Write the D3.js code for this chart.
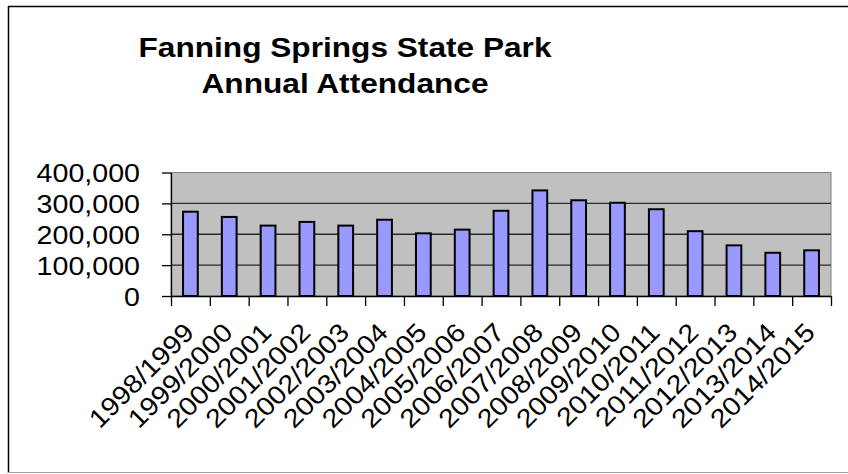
<!DOCTYPE html>
<html>
<head>
<meta charset="utf-8">
<script src="https://cdn.jsdelivr.net/npm/d3@7"></script>
<style>
    body { margin: 0; background: #fff; }
    svg { display: block; }
    text { font-family: "Liberation Sans", Arial, sans-serif; fill: #000; }
</style>
</head>
<body>
<svg id="chart" width="848" height="474"></svg>
<script>
const titleLines = ["Fanning Springs State Park", "Annual Attendance"];
const seasons = ["1998/1999", "1999/2000", "2000/2001", "2001/2002", "2002/2003", "2003/2004",
    "2004/2005", "2005/2006", "2006/2007", "2007/2008", "2008/2009", "2009/2010",
    "2010/2011", "2011/2012", "2012/2013", "2013/2014", "2014/2015"];
const attendance = [273000, 256000, 228000, 240000, 228000, 247000, 203000, 215000, 276000,
    342000, 310000, 302000, 281000, 210000, 164000, 140000, 148000];
const yTicks = [0, 100000, 200000, 300000, 400000];

const svg = d3.select("#chart");
const plot = { left: 171, right: 831, top: 172.5, bottom: 296 };
const stretch = 1.1; // the original text renders a bit wide

// outer frame (left/top dark, bottom light)
svg.append("line").attr("x1", 8.5).attr("y1", 6).attr("x2", 8.5).attr("y2", 473).style("stroke", "#000").style("stroke-width", 1.5);
svg.append("line").attr("x1", 8).attr("y1", 6.5).attr("x2", 848).attr("y2", 6.5).style("stroke", "#000").style("stroke-width", 1.5);
svg.append("line").attr("x1", 8).attr("y1", 472.5).attr("x2", 848).attr("y2", 472.5).style("stroke", "#a0a0a0");

// title
svg.append("g").selectAll("text")
    .data(titleLines)
    .enter()
    .append("text")
    .attr("text-anchor", "middle")
    .attr("transform", (d, i) => `translate(345,${56.5 + i * 36}) scale(1.13,1)`)
    .style("font-weight", "bold")
    .style("font-size", "28px")
    .text(d => d);

const x = d3.scaleBand()
    .domain(seasons)
    .range([plot.left, plot.right])
    .paddingInner(0.62)
    .paddingOuter(0.31);

const y = d3.scaleLinear()
    .domain([0, 400000])
    .range([plot.bottom, plot.top]);

// slot boundaries for the category ticks
const slots = d3.scaleLinear()
    .domain([0, seasons.length])
    .range([plot.left, plot.right]);

svg.append("rect")
    .attr("x", plot.left)
    .attr("y", plot.top)
    .attr("width", plot.right - plot.left)
    .attr("height", plot.bottom - plot.top)
    .style("fill", "#c0c0c0")
    .style("stroke", "#808080");

// gridlines
svg.append("g")
    .selectAll("line")
    .data(yTicks.filter(d => d > 0 && d < 400000))
    .enter()
    .append("line")
    .attr("x1", plot.left)
    .attr("x2", plot.right)
    .attr("y1", d => y(d))
    .attr("y2", d => y(d))
    .style("stroke", "#2a2a2a")
    .style("stroke-width", 1.3);

// bars
svg.append("g")
    .selectAll("rect")
    .data(attendance)
    .enter()
    .append("rect")
    .attr("x", (d, i) => x(seasons[i]))
    .attr("y", d => y(d))
    .attr("width", x.bandwidth())
    .attr("height", d => y(0) - y(d))
    .style("fill", "#9999ff")
    .style("stroke", "#000")
    .style("stroke-width", 2);

// y axis
const yAxis = svg.append("g")
    .attr("transform", `translate(${plot.left},0)`)
    .call(d3.axisLeft(y).tickValues(yTicks).tickSize(9).tickSizeOuter(0).tickFormat(d3.format(",")));
yAxis.select(".domain").style("stroke", "#000").style("stroke-width", 1.3);
yAxis.selectAll(".tick line").style("stroke", "#000").style("stroke-width", 1.3);
yAxis.selectAll(".tick text")
    .attr("x", 0)
    .attr("dy", "0.35em")
    .attr("transform", `translate(-31,0) scale(${stretch},1)`)
    .style("font-size", "26px")
    .style("font-family", "'Liberation Sans', Arial, sans-serif")
    .style("fill", "#000");

// x axis: ticks at the slot edges
const xAxis = svg.append("g")
    .attr("transform", `translate(0,${plot.bottom})`)
    .call(d3.axisBottom(slots).tickValues(d3.range(seasons.length + 1)).tickSize(10).tickSizeOuter(0).tickFormat(""));
xAxis.select(".domain").style("stroke", "#000").style("stroke-width", 1.3);
xAxis.selectAll(".tick line").style("stroke", "#000").style("stroke-width", 1.3);

// rotated category labels
svg.append("g")
    .selectAll("text")
    .data(seasons)
    .enter()
    .append("text")
    .attr("text-anchor", "end")
    .attr("transform", d => `translate(${x(d) + x.bandwidth() / 2 + 5},${plot.bottom + 38}) rotate(-45) scale(${stretch},1)`)
    .style("font-size", "26px")
    .text(d => d);
</script>
</body>
</html>
